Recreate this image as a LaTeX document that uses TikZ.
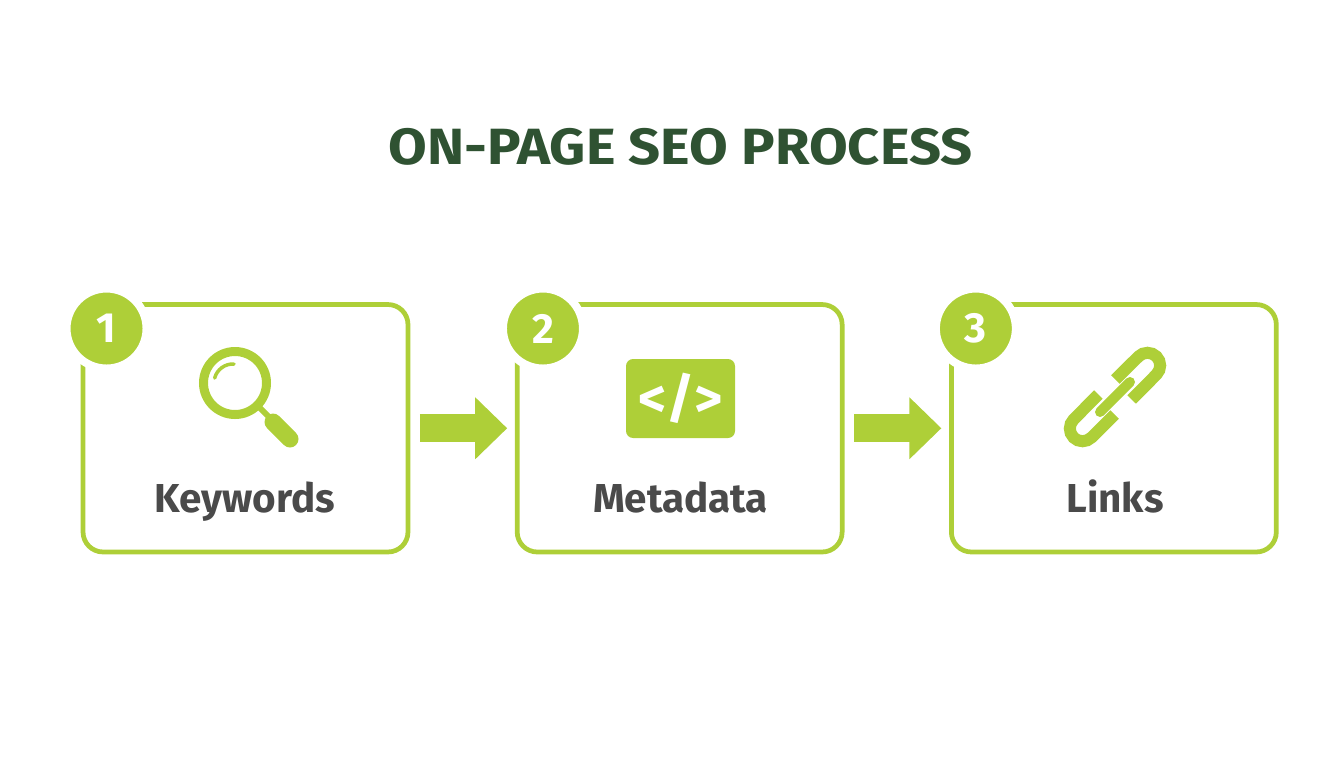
\documentclass[tikz,border=0pt]{standalone}
\usepackage{fontspec}
\setmainfont{Fira Sans}
\usetikzlibrary{arrows.meta, positioning}
\definecolor{leaf}{HTML}{AECF38}
\definecolor{forest}{HTML}{2F5232}
\definecolor{slate}{HTML}{4A4A4A}

\begin{document}
\begin{tikzpicture}[x=0.02cm,y=-0.02cm,node distance=8.685cm,
         box node/.style={rectangle,draw=leaf,line width=0.095cm,rounded corners=0.4cm,outer sep=0pt,minimum width=6.5cm,minimum height=4.95cm},
         badge node/.style={circle,fill=leaf,draw=white,line width=0.16cm,minimum size=1.6cm,inner sep=0pt,text=white,font=\bfseries\fontsize{24}{24}\selectfont},
         name node/.style={anchor=base,text=slate,font=\bfseries\fontsize{23}{23}\selectfont},
         flow arrow/.style={draw=leaf,line width=0.56cm,shorten <=0.24cm,shorten >=0.2cm,-{Triangle[length=0.64cm,width=1.2cm,fill=leaf]}},
         icon line/.style={draw=leaf,line width=0.18cm},
         chain line/.style={draw=leaf,line width=0.24cm}]

       \useasboundingbox (0,0) rectangle (1344,768);
       \node (title) at (680.5,147) [text=forest,font=\bfseries\fontsize{29}{29}\selectfont\addfontfeature{FakeStretch=1.1}] {ON-PAGE SEO PROCESS};

       \node[box node] (keywords) at (245.5,428.25) {};
       \node[box node] (metadata) [right of=keywords] {};
       \node[box node] (links) [right of=metadata] {};

       \node[badge node] (badge1) at ([shift={(23.5,24)}]keywords.north west) {1};
       \node[badge node] (badge2) at ([shift={(25.75,24)}]metadata.north west) {2};
       \node[badge node] (badge3) at ([shift={(24.5,24)}]links.north west) {3};

       \node[name node] (keywordsname) at (245,512) {Keywords};
       \node[name node] (metadataname) at (680.5,512) {Metadata};
       \node[name node] (linksname) at (1115,512) {Links};

       \foreach \s/\t in {keywords/metadata, metadata/links} {
        \draw[flow arrow] (\s) -- (\t);}

       % magnifier
       \draw[icon line] (235,383) circle [radius=31.5];
       \draw[leaf,line width=0.07cm,line cap=round] (234,364) arc [start angle=273,delta angle=-78,radius=19];
       \draw[leaf,line width=0.12cm] (259,407) -- (272,420);
       \draw[leaf,line width=0.34cm,line cap=round] (273,422) -- (290,439);

       % code tag
       \node[fill=leaf,rounded corners=0.14cm,minimum width=2.18cm,minimum height=1.58cm,text=white,font=\bfseries\fontsize{31}{31}\selectfont] (codetag) at (680.5,398.5) {</>};

       % chain
       \draw[chain line] (1115.3,379.5) -- (1138.5,356.5) arc [start angle=225,delta angle=180,radius=12.7] -- (1131.7,399.5);
       \draw[chain line] (1114.7,414.5) -- (1091.5,437.5) arc [start angle=45,delta angle=180,radius=12.7] -- (1098.3,394.5);
       \draw[leaf,line width=0.2cm,line cap=round] (1100,412) -- (1130,382);
\end{tikzpicture}
\end{document}
